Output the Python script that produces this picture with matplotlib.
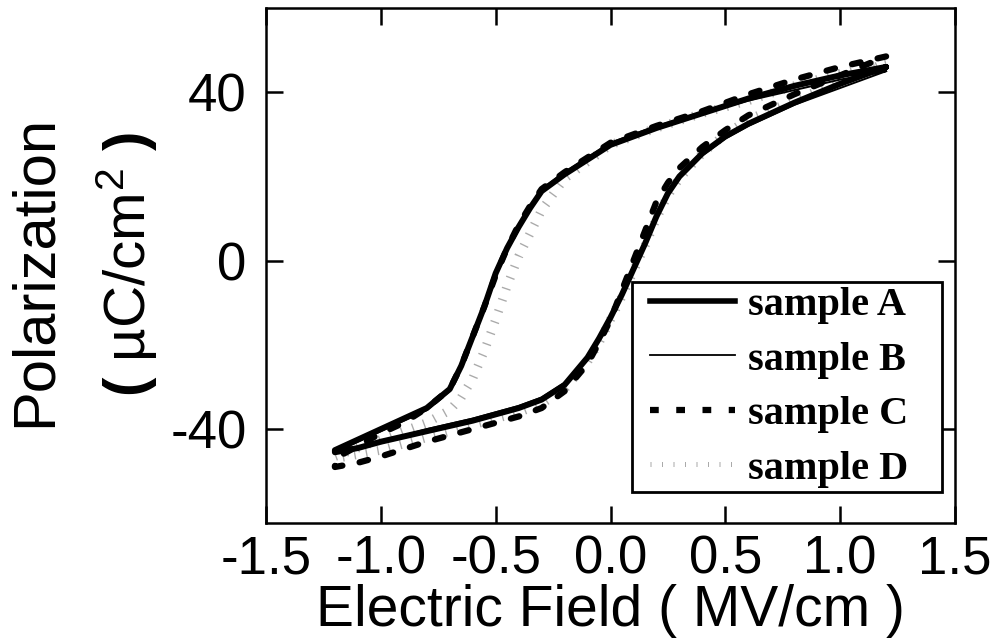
import matplotlib
matplotlib.use("Agg")
import matplotlib.pyplot as plt
from matplotlib.lines import Line2D
from matplotlib.legend_handler import HandlerLine2D

# ---- data ----
E_down = [1.2, 1.0, 0.8, 0.6, 0.4, 0.2, 0.1, 0.0, -0.1, -0.2, -0.3, -0.35, -0.4,
          -0.45, -0.5, -0.55, -0.6, -0.65, -0.7, -0.8, -0.9, -1.0, -1.1, -1.2]
E_up = [-1.2, -1.1, -1.0, -0.8, -0.6, -0.4, -0.3, -0.2, -0.1, -0.05, 0.0, 0.05,
        0.1, 0.15, 0.2, 0.25, 0.3, 0.4, 0.5, 0.6, 0.8, 1.0, 1.2]

A_down = [46.0, 44.0, 41.5, 38.5, 35.0, 31.5, 29.5, 27.5, 24.0, 20.5, 16.5, 12.5, 8.0,
          3.0, -3.0, -11.0, -18.0, -25.0, -30.5, -35.0, -37.5, -40.0, -42.5, -45.0]
A_up = [-45.5, -44.5, -43.0, -40.5, -38.0, -35.0, -33.0, -29.5, -23.0, -18.5, -13.5, -8.0,
        -2.0, 4.0, 10.5, 16.0, 20.0, 25.5, 29.5, 32.5, 37.5, 42.0, 46.0]

B_down = [45.0, 43.0, 40.5, 38.0, 35.0, 32.0, 30.0, 28.0, 24.5, 21.0, 17.0, 13.0, 8.5,
          3.5, -2.5, -10.5, -17.5, -25.0, -31.0, -35.5, -38.0, -40.5, -43.0, -45.5]
B_up = [-45.5, -44.5, -43.0, -40.0, -37.5, -34.5, -32.5, -29.0, -23.5, -19.0, -14.0, -8.5,
        -2.5, 3.5, 10.0, 15.5, 19.5, 25.0, 29.0, 32.0, 37.0, 41.0, 45.0]

C_down = [48.5, 46.0, 43.0, 39.5, 35.5, 32.0, 30.0, 28.0, 24.5, 21.0, 17.0, 13.0, 8.5,
          3.0, -3.5, -11.0, -18.0, -25.0, -30.5, -35.0, -38.5, -41.0, -44.0, -47.0]
C_up = [-49.0, -48.0, -46.5, -43.0, -40.0, -37.0, -35.0, -31.0, -24.5, -19.5, -14.0, -7.0,
        0.0, 7.0, 14.0, 18.5, 22.0, 27.0, 31.0, 34.5, 39.5, 44.0, 48.5]

D_down = [47.0, 44.5, 41.5, 38.0, 35.0, 31.5, 29.5, 27.5, 23.5, 19.5, 12.0, 6.5, 1.0,
          -6.0, -14.0, -21.5, -28.0, -32.5, -35.5, -38.5, -40.5, -42.5, -44.5, -46.5]
D_up = [-47.0, -46.0, -45.0, -42.0, -39.0, -36.0, -34.0, -30.5, -24.0, -19.5, -14.0, -8.5,
        -2.5, 3.5, 10.0, 15.5, 19.5, 25.5, 30.0, 33.5, 38.0, 42.5, 47.0]

labels = ["sample A", "sample B", "sample C", "sample D"]
x_ticks = [-1.5, -1.0, -0.5, 0.0, 0.5, 1.0, 1.5]
y_ticks = [-40, 0, 40]

# ---- figure ----
plt.rcParams['font.family'] = ['Liberation Sans', 'DejaVu Sans']
plt.rcParams['mathtext.fontset'] = 'custom'
plt.rcParams['mathtext.rm'] = 'Liberation Sans'
plt.rcParams['mathtext.it'] = 'Liberation Sans:italic'
plt.rcParams['mathtext.bf'] = 'Liberation Sans:bold'

fig = plt.figure(figsize=(9.96, 6.38), dpi=100)
ax = fig.add_axes([266/996, 1-523/638, (955-266)/996, (523-8)/638])

def loop(d, u):
    return E_down + E_up, d + u

xa, ya = loop(A_down, A_up)
xb, yb = loop(B_down, B_up)
xc, yc = loop(C_down, C_up)
xd, yd = loop(D_down, D_up)

GREY = '#aaaaaa'
ax.plot(xd, yd, color=GREY, lw=6.5, dashes=(0.15, 1.15), dash_capstyle='butt',
        label=labels[3], zorder=2)
ax.plot(xc, yc, color='black', lw=4.5, dashes=(1.4, 2.8), dash_capstyle='round',
        label=labels[2], zorder=3)
ax.plot(xa, ya, color='black', lw=4.3, solid_joinstyle='round', solid_capstyle='round',
        label=labels[0], zorder=4)
ax.plot(xb, yb, color='black', lw=1.4, label=labels[1], zorder=5)

ax.set_xlim(-1.5, 1.5)
ax.set_ylim(-62.3, 60)
ax.set_xticks(x_ticks)
ax.set_xticklabels([f"{t:.1f}" for t in x_ticks])
ax.set_yticks(y_ticks)
ax.set_yticklabels([str(t) for t in y_ticks])
ax.tick_params(direction='in', length=12, width=1.8, top=True, right=True,
               labelsize=38)
ax.tick_params(axis='x', pad=8)
ax.tick_params(axis='y', pad=14)
for s in ax.spines.values():
    s.set_linewidth(1.8)

ax.set_xlabel("Electric Field ( MV/cm )", fontsize=41, labelpad=0)
fig.text(35/996, 1-271/638, "Polarization", rotation=90, fontsize=43,
         ha='center', va='center')
fig.text(127/996, 1-265/638, r"$\mathbf{(}$ µC/cm$^2$ $\mathbf{)}$", rotation=90,
         fontsize=42, ha='center', va='center')

# legend
LFS = 29
fs_px = LFS * 100 / 72
mpad = 13 / fs_px
handles = [Line2D([], [], color='black', lw=4.0),
           Line2D([], [], color='black', lw=1.3),
           Line2D([], [], color='black', lw=4.5, dashes=(1.4, 2.8)),
           Line2D([], [], color=GREY, lw=3.6, dashes=(0.2, 2.1), dash_capstyle='butt')]
hmap = {h: HandlerLine2D(marker_pad=mpad, numpoints=2) for h in handles}
leg = ax.legend(handles, labels, loc='upper left', mode='expand',
                bbox_to_anchor=((632-266)/689, (523-500)/515, 310/689, (500-282)/515),
                borderaxespad=0, frameon=True, fancybox=False, handler_map=hmap,
                prop={'family': 'Liberation Serif', 'weight': 'bold', 'size': LFS},
                handlelength=(85 + 26) / fs_px, handletextpad=0.0, labelspacing=0.43,
                borderpad=0.12)
leg.get_frame().set_edgecolor('black')
leg.get_frame().set_linewidth(2.0)
leg.get_frame().set_alpha(1)

fig.savefig("out.png", dpi=100)
